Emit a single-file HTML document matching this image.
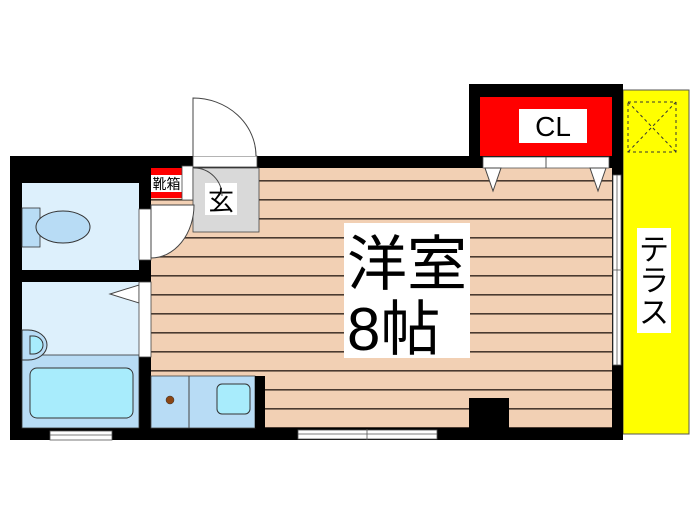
<!DOCTYPE html>
<html><head><meta charset="utf-8"><style>
html,body{margin:0;padding:0;background:#fff;width:700px;height:525px;overflow:hidden}
svg{display:block}
text{font-family:"Liberation Sans","Noto Sans CJK JP",sans-serif}
</style></head><body>
<svg width="700" height="525" viewBox="0 0 700 525" xmlns="http://www.w3.org/2000/svg">
<defs>
<pattern id="fl" x="0" y="180" width="10" height="19" patternUnits="userSpaceOnUse">
<rect width="10" height="19" fill="#f2d0b4"/><rect y="0" width="10" height="1.6" fill="#4a3a30"/>
</pattern>
</defs>
<!-- terrace -->
<rect x="623" y="90" width="66" height="344" fill="#ffff00" stroke="#555" stroke-width="1"/>
<rect x="628" y="102" width="48" height="50" fill="none" stroke="#333" stroke-dasharray="3,3"/>
<line x1="628" y1="102" x2="676" y2="152" stroke="#333" stroke-dasharray="3,3"/>
<line x1="676" y1="102" x2="628" y2="152" stroke="#333" stroke-dasharray="3,3"/>
<rect x="637" y="228" width="34" height="105" fill="#fff"/>
<text x="654" y="260" font-size="30" text-anchor="middle">テ</text>
<text x="654" y="291" font-size="30" text-anchor="middle">ラ</text>
<text x="654" y="323" font-size="30" text-anchor="middle">ス</text>
<!-- outer walls -->
<rect x="10" y="156" width="613" height="284" fill="#000"/>
<rect x="469" y="84" width="154" height="84" fill="#000"/>
<!-- floor -->
<rect x="151" y="168" width="461" height="260" fill="url(#fl)"/>
<!-- CL -->
<rect x="480" y="97" width="132" height="59" fill="#ff0000"/>
<rect x="519" y="109" width="68" height="34" fill="#fff"/>
<text x="553" y="136" font-size="28" text-anchor="middle">CL</text>
<rect x="483" y="157" width="126" height="11" fill="#fff" stroke="#555" stroke-width="0.8"/>
<line x1="546" y1="157" x2="546" y2="168" stroke="#555"/>
<polygon points="485,168 501,168 493,191" fill="#fff" stroke="#444"/>
<polygon points="590,168 606,168 598,191" fill="#fff" stroke="#444"/>
<!-- right window -->
<rect x="613" y="175" width="8" height="190" fill="#fff" stroke="#555" stroke-width="0.8"/>
<line x1="617" y1="175" x2="617" y2="365" stroke="#555" stroke-width="0.8"/>
<line x1="612" y1="270" x2="622" y2="270" stroke="#555" stroke-width="0.8"/>
<!-- toilet -->
<rect x="22" y="183" width="117" height="87" fill="#ddf0fc"/>
<rect x="22" y="208" width="18" height="39" fill="#b8dcf5" stroke="#333" stroke-width="0.8"/>
<ellipse cx="63" cy="227" rx="27" ry="16" fill="#b8dcf5" stroke="#333"/>
<!-- bath -->
<rect x="22" y="282" width="117" height="146" fill="#ddf0fc"/>
<rect x="22" y="355" width="117" height="73" fill="#b8dcf5" stroke="#333" stroke-width="0.8"/>
<rect x="30" y="368" width="103" height="50" rx="7" fill="#a8ecfc" stroke="#333"/>
<path d="M22,330 h6 a19,15 0 0 1 0,30 h-6 z" fill="#b8dcf5" stroke="#333"/>
<path d="M30,336 h3 a10,9 0 0 1 0,18 h-3 z" fill="#a8ecfc" stroke="#333"/>
<polygon points="139,285 139,303 110,294" fill="#fff" stroke="#444"/>
<!-- doors on inner wall -->
<rect x="139" y="209" width="12" height="51" fill="#fff" stroke="#444" stroke-width="0.8"/>
<rect x="139" y="282" width="12" height="75" fill="#fff" stroke="#444" stroke-width="0.8"/>
<!-- shoe box -->
<rect x="151" y="168" width="31" height="30" fill="#ff0000"/>
<rect x="151" y="175" width="31" height="17" fill="#fff"/>
<text x="166.5" y="189" font-size="14" text-anchor="middle">靴箱</text>
<rect x="182" y="166" width="11" height="34" fill="#fff" stroke="#444" stroke-width="0.8"/>
<!-- genkan -->
<rect x="193" y="168" width="66" height="64" fill="#d9d9d9" stroke="#444" stroke-width="0.8"/>
<rect x="205" y="183" width="32" height="32" fill="#fff"/>
<text x="221" y="210" font-size="26" text-anchor="middle">玄</text>
<path d="M151,258 A43,53 0 0 0 194,205 L151,205 Z" fill="#fff" stroke="#444"/>
<path d="M194,168 A28,28 0 0 1 222,196" fill="none" stroke="#444"/>
<!-- entry door -->
<rect x="193" y="156" width="64" height="11" fill="#fff" stroke="#444" stroke-width="0.8"/>
<path d="M193,156 L193,98 A63,58 0 0 1 256,156" fill="#fff" stroke="#444"/>
<!-- kitchen -->
<rect x="151" y="376" width="104" height="52" fill="#b8dcf5" stroke="#444" stroke-width="0.8"/>
<line x1="189" y1="376" x2="189" y2="428" stroke="#444"/>
<rect x="255" y="376" width="10" height="52" fill="#000"/>
<circle cx="170" cy="400" r="4" fill="#8b4513" stroke="#333" stroke-width="0.5"/>
<rect x="217" y="384" width="33" height="30" rx="5" fill="#a8ecfc" stroke="#333"/>
<!-- black block -->
<rect x="469" y="398" width="40" height="30" fill="#000"/>
<!-- bottom windows -->
<rect x="50" y="431" width="62" height="9" fill="#fff" stroke="#555" stroke-width="0.8"/>
<line x1="50" y1="435" x2="112" y2="435" stroke="#555" stroke-width="0.8"/>
<rect x="298" y="430" width="139" height="9" fill="#fff" stroke="#555" stroke-width="0.8"/>
<line x1="298" y1="434" x2="437" y2="434" stroke="#555" stroke-width="0.8"/>
<line x1="367" y1="429" x2="367" y2="440" stroke="#555" stroke-width="0.8"/>
<!-- main label -->
<rect x="344" y="223" width="126" height="135" fill="#fff"/>
<text x="347" y="285" font-size="60">洋室</text>
<text x="347" y="350" font-size="60">8帖</text>
</svg>
</body></html>
